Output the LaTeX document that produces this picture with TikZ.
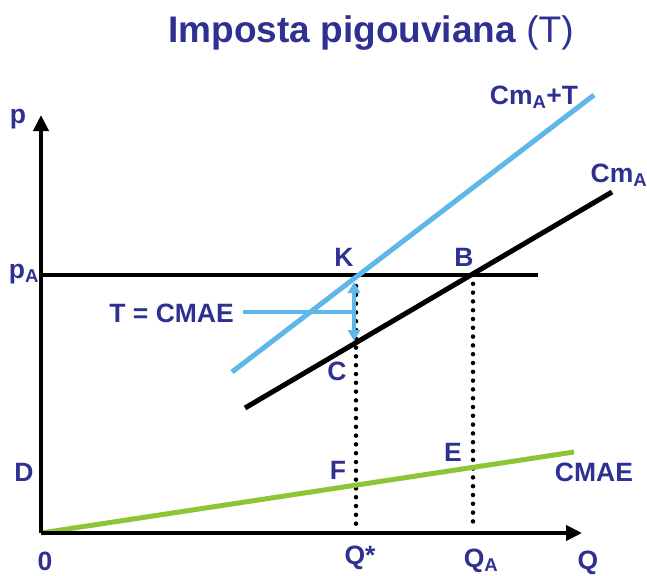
\documentclass[tikz,border=0pt]{standalone}
\usepackage{fontspec}
\setmainfont{Liberation Sans}
\usetikzlibrary{arrows.meta}
\definecolor{lab}{RGB}{46,49,146}
\definecolor{sky}{RGB}{95,182,232}
\definecolor{lime}{RGB}{140,198,55}
\tikzset{
  lbl/.style={text=lab,font=\bfseries\fontsize{26.5}{26.5}\selectfont,inner sep=0pt},
  axis/.style={line width=4.6pt,-{Triangle[length=16pt,width=15pt]}},
  curve/.style={line width=5pt},
  dots/.style={line width=4.5pt,line cap=round,dash pattern=on 0pt off 8.8pt},
}
\begin{document}
\begin{tikzpicture}[x=1pt,y=-1pt]
\useasboundingbox (0,0) rectangle (647,575);
% title
\node[text=lab,inner sep=0pt] (title) at (371,33) {\fontsize{37}{37}\selectfont\textbf{Imposta pigouviana} (T)};
% key points
\coordinate (O) at (41,533);
\coordinate (ytop) at (41,115);
\coordinate (xend) at (582,533);
\coordinate (pA) at (41,275);
\coordinate (pAend) at (538,275);
\coordinate (T1) at (232,372);
\coordinate (T2) at (594,95);
\coordinate (C1) at (245,408);
\coordinate (C2) at (612,192);
\coordinate (G2) at (574,452);
\coordinate (B) at (473,275);
\coordinate (Qs) at (356,530);
\coordinate (QA) at (473,530);
\coordinate (Kb) at (356,286);
\coordinate (Ka) at (354,282);
\coordinate (Ca) at (354,341);
\coordinate (Tl) at (243,312);
\coordinate (Tr) at (352,312);
% dotted verticals
\draw[dots] (Kb) -- (Qs);
\draw[dots] (B) -- (QA);
% pA line
\draw[line width=4pt] (pA) -- (pAend);
% curves
\draw[curve,sky] (T1) -- (T2);
\draw[curve,black] (C1) -- (C2);
\draw[curve,lime] (O) -- (G2);
% axes
\draw[axis] (O) -- (ytop);
\draw[axis] (O) -- (xend);
% T arrow
\draw[sky,line width=4pt,{Triangle[length=11pt,width=12pt]}-{Triangle[length=11pt,width=12pt]}] (Ka) -- (Ca);
\draw[sky,line width=4pt] (Tl) -- (Tr);
% labels
\node[lbl] (lp) at (18,119) {p};
\node[lbl] (lpA) at (24,274) {p\textsubscript{A}};
\node[lbl,anchor=east] (lT) at (234,313) {T = CMAE};
\node[lbl] (lK) at (344,257) {K};
\node[lbl] (lB) at (464,257) {B};
\node[lbl] (lC) at (337,371) {C};
\node[lbl] (lD) at (24,472) {D};
\node[lbl] (lF) at (338,470) {F};
\node[lbl] (lE) at (453,452) {E};
\node[lbl] (lCMAE) at (594,472) {CMAE};
\node[lbl] (l0) at (45,561) {0};
\node[lbl] (lQs) at (360,558) {Q*};
\node[lbl] (lQA) at (481,561) {Q\textsubscript{A}};
\node[lbl] (lQ) at (588,563) {Q};
\node[lbl] (lCmT) at (534,97) {Cm\textsubscript{A}+T};
\node[lbl] (lCm) at (619,175) {Cm\textsubscript{A}};
\end{tikzpicture}
\end{document}
